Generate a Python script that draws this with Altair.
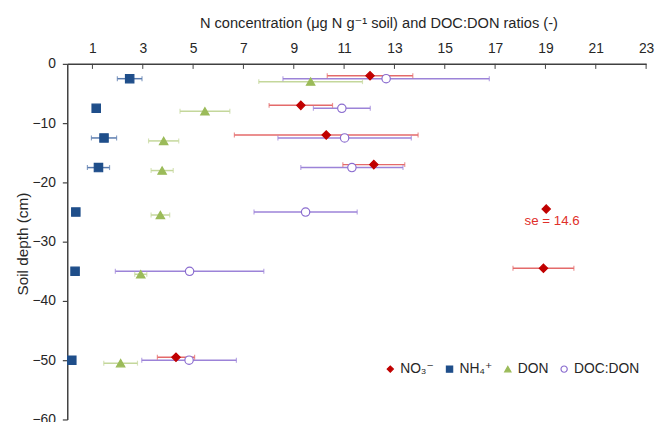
import altair as alt
import pandas as pd

# ---------------- data ----------------
series_names = ["NO₃⁻", "NH₄⁺", "DON", "DOC:DON"]

no3_depth = [-2, -7, -12, -17, -24.5, -34.5, -49.5]
no3_val = [12.03, 9.28, 10.29, 12.18, 19.03, 18.92, 4.32]
no3_se = [1.70, 1.26, 3.65, 1.23, 0, 1.21, 0.74]

nh4_depth = [-2.5, -7.5, -12.5, -17.5, -25, -35, -50]
nh4_val = [2.48, 1.15, 1.46, 1.24, 0.34, 0.31, 0.18]
nh4_se = [0.49, 0, 0.50, 0.44, 0, 0, 0]

don_depth = [-3, -8, -13, -18, -25.5, -35.5, -50.5]
don_val = [9.67, 5.47, 3.83, 3.77, 3.70, 2.92, 2.12]
don_se = [2.06, 0.99, 0.60, 0.44, 0.37, 0.24, 0.67]

docdon_depth = [-2.5, -7.5, -12.5, -17.5, -25, -35, -50]
docdon_val = [12.67, 10.91, 11.02, 11.31, 9.47, 4.86, 4.84]
docdon_se = [4.10, 1.13, 2.65, 2.03, 2.05, 2.95, 1.88]

x_ticks = [1, 3, 5, 7, 9, 11, 13, 15, 17, 19, 21, 23]
y_ticks = [0, -10, -20, -30, -40, -50, -60]

annot_text = ["se = 14.6"]
annot_x = [19.03]
annot_y = [-24.5]

x_title = "N concentration (μg N g⁻¹ soil) and DOC:DON ratios (-)"
y_title = "Soil depth (cm)"

# ---------------- styles ----------------
marker_colors = ["#C00000", "#1F4E8A", "#9BBB59", "#8A6CCF"]
fill_colors = ["#C00000", "#1F4E8A", "#9BBB59", "white"]
bar_colors = ["#E46A6A", "#5A7BAE", "#C4D79B", "#9C83D8"]
shapes = ["diamond", "square", "triangle-up", "circle"]
FONT = "Liberation Sans, Arial, DejaVu Sans, sans-serif"

rows = []
for name, d, v, s in [
    (series_names[0], no3_depth, no3_val, no3_se),
    (series_names[1], nh4_depth, nh4_val, nh4_se),
    (series_names[2], don_depth, don_val, don_se),
    (series_names[3], docdon_depth, docdon_val, docdon_se),
]:
    for di, vi, si in zip(d, v, s):
        rows.append({"series": name, "eb": name + " se", "depth": di, "value": vi,
                     "se": si, "lo": vi - si, "hi": vi + si})
df = pd.DataFrame(rows)
err_df = df[df["se"] > 0]
eb_names = [n + " se" for n in series_names]

tick_df = pd.DataFrame({"tick": x_ticks, "y0": [0] * len(x_ticks),
                        "y1": [-0.85] * len(x_ticks)})
annot_df = pd.DataFrame({"text": annot_text, "x": annot_x, "y": annot_y})

xscale = alt.Scale(domain=[0, 23], nice=False, zero=False)
yscale = alt.Scale(domain=[-60, 0], nice=False, zero=False)

xaxis = alt.Axis(orient="top", values=x_ticks, ticks=False, tickSize=0,
                 labelPadding=8, labelFlush=False, labelOverlap=False,
                 title=x_title, titleX=315, titleY=-37,
                 titleBaseline="alphabetic", titleAlign="center", grid=False,
                 titleFontSize=14.8)
yaxis = alt.Axis(values=y_ticks, tickSize=5, labelPadding=7, labelFlush=False,
                 labelOverlap=False, title=y_title, titleX=-37, titleY=182,
                 grid=False, titleFontSize=15.5)


def X(field):
    return alt.X(field, type="quantitative", scale=xscale, axis=xaxis)


def Y(field):
    return alt.Y(field, type="quantitative", scale=yscale, axis=yaxis)


bar_color = alt.Color("eb:N", scale=alt.Scale(domain=eb_names, range=bar_colors),
                      legend=None)

top_ticks = alt.Chart(tick_df).mark_rule(color="#404040", strokeWidth=1).encode(
    x=X("tick"), y=Y("y0"), y2="y1"
)

err_rules = alt.Chart(err_df).mark_rule(strokeWidth=1.5).encode(
    x=X("lo"), x2="hi", y=Y("depth"), color=bar_color
)
caps_lo = alt.Chart(err_df).mark_tick(orient="vertical", size=5, thickness=1.2).encode(
    x=X("lo"), y=Y("depth"), color=bar_color
)
caps_hi = alt.Chart(err_df).mark_tick(orient="vertical", size=5, thickness=1.2).encode(
    x=X("hi"), y=Y("depth"), color=bar_color
)


def leg():
    return alt.Legend(title=None, orient="none", legendX=320, legendY=302,
                      direction="horizontal", labelFont=FONT, labelFontSize=14,
                      labelColor="#262626", symbolSize=40, symbolStrokeWidth=1.2,
                      labelOffset=3, columnPadding=8, padding=0)


points = alt.Chart(df).mark_point(size=72, opacity=1, fillOpacity=1, strokeWidth=1.2).encode(
    x=X("value"),
    y=Y("depth"),
    shape=alt.Shape("series:N", scale=alt.Scale(domain=series_names, range=shapes),
                    sort=series_names, legend=leg()),
    fill=alt.Fill("series:N", scale=alt.Scale(domain=series_names, range=fill_colors),
                  sort=series_names, legend=leg()),
    stroke=alt.Stroke("series:N", scale=alt.Scale(domain=series_names, range=marker_colors),
                      sort=series_names, legend=leg()),
)

annot = alt.Chart(annot_df).mark_text(color="#E0302A", fontSize=13.5, font=FONT, dx=6, dy=12,
                                      baseline="middle", align="center").encode(
    x=X("x"), y=Y("y"), text="text:N"
)

chart = alt.layer(top_ticks, err_rules, caps_lo, caps_hi, points, annot).properties(
    width=586, height=360,
    padding={"left": 60, "top": 54, "right": 9, "bottom": 0},
    autosize=alt.AutoSizeParams(type="none"),
).configure_view(stroke=None).configure_axis(
    labelFont=FONT, titleFont=FONT, labelFontSize=14, titleFontSize=14.5,
    labelColor="#262626", titleColor="#262626", titleFontWeight="normal",
    domainColor="#404040", domainWidth=1.5, tickColor="#404040", tickWidth=1.2,
)

chart.save("out.html", embed_options={"renderer": "svg", "actions": False})
